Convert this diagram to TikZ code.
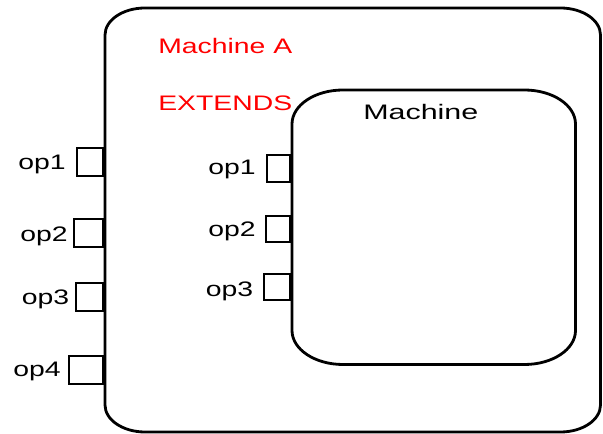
\documentclass[tikz,border=0pt]{standalone}
\usepackage{fontspec}
\setmainfont{Liberation Sans}
\begin{document}
\begin{tikzpicture}[x=1pt,y=1pt,
  boxline/.style={line width=2.8pt},
  port/.style={draw,line width=2.3pt,rectangle,inner sep=0pt,anchor=east},
  lbl/.style={font=\fontsize{21}{25}\selectfont,inner sep=0pt,xscale=1.35,anchor=base},
  title/.style={lbl,anchor=base west}]
\useasboundingbox (0,0) rectangle (603,434);

% outer machine (elliptical corners)
\draw[boxline] (105,399) -- (105,29)
  arc[start angle=180,end angle=270,x radius=40,y radius=27] -- (560.5,2)
  arc[start angle=270,end angle=360,x radius=40,y radius=27] -- (600.5,399)
  arc[start angle=0,end angle=90,x radius=40,y radius=27] -- (145,426)
  arc[start angle=90,end angle=180,x radius=40,y radius=27] -- cycle;

% inner machine
\draw[boxline] (292,310) -- (292,103.5)
  arc[start angle=180,end angle=270,x radius=51,y radius=34] -- (524.5,69.5)
  arc[start angle=270,end angle=360,x radius=51,y radius=34] -- (575.5,310)
  arc[start angle=0,end angle=90,x radius=51,y radius=34] -- (343,344)
  arc[start angle=90,end angle=180,x radius=51,y radius=34] -- cycle;

\node[title,text=red] (nameA) at (158,380) {Machine A};
\node[title,text=red] (ext) at (158,323) {EXTENDS};
\node[title,xscale=1.45/1.35] (nameM) at (363,314) {Machine};

% ports of the outer machine
\node[port,minimum width=26pt,minimum height=28pt] (a1) at (104,272) {};
\node[port,minimum width=29pt,minimum height=28pt] (a2) at (104,201) {};
\node[port,minimum width=27pt,minimum height=28pt] (a3) at (104,137) {};
\node[port,minimum width=34pt,minimum height=28pt] (a4) at (104,64) {};
\node[lbl] (la1) at (42,264) {op1};
\node[lbl] (la2) at (44,192) {op2};
\node[lbl] (la3) at (45.5,129) {op3};
\node[lbl] (la4) at (37,57) {op4};

% ports of the inner machine
\node[port,minimum width=23pt,minimum height=27pt] (b1) at (291,265.5) {};
\node[port,minimum width=24pt,minimum height=26pt] (b2) at (291,205) {};
\node[port,minimum width=26pt,minimum height=26pt] (b3) at (291,147) {};
\node[lbl] (lb1) at (232,259) {op1};
\node[lbl] (lb2) at (232,197) {op2};
\node[lbl] (lb3) at (229.5,137) {op3};
\end{tikzpicture}
\end{document}
